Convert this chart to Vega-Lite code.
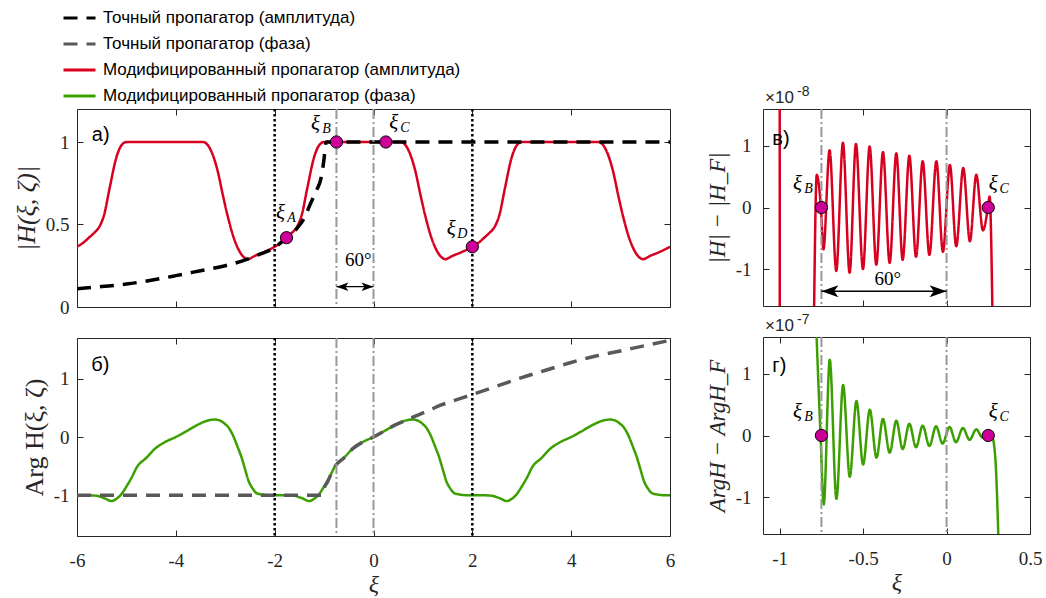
{
"$schema": "https://vega.github.io/schema/vega-lite/v6.json",
"padding": {"left": 12, "top": 0, "right": 0, "bottom": 0},
"background": "white",
"config": {
  "locale": {"number": {"decimal": ".", "thousands": ",", "grouping": [3], "currency": ["", ""], "minus": "-"}},
  "view": {"stroke": "#262626", "strokeWidth": 1},
  "axis": {"grid": false, "domain": false, "labelFlush": false, "tickColor": "#262626", "tickSize": -6, "tickWidth": 1, "labelFont": "Liberation Serif", "labelFontSize": 19, "labelColor": "#262626", "titleFont": "Liberation Serif", "titleFontSize": 22, "titleFontWeight": "normal", "titleColor": "#262626"}
},
"datasets": {
  "ampMod": [{"xi":-6,"v":0.365},{"xi":-5.85,"v":0.395},{"xi":-5.76,"v":0.42},{"xi":-5.65,"v":0.45},{"xi":-5.55,"v":0.485},{"xi":-5.45,"v":0.56},{"xi":-5.34,"v":0.72},{"xi":-5.2,"v":0.91},{"xi":-5.1,"v":0.98},{"xi":-5.0,"v":1.0},{"xi":-3.45,"v":1.0},{"xi":-3.35,"v":0.98},{"xi":-3.25,"v":0.92},{"xi":-3.15,"v":0.82},{"xi":-3.05,"v":0.68},{"xi":-2.95,"v":0.55},{"xi":-2.85,"v":0.44},{"xi":-2.75,"v":0.36},{"xi":-2.65,"v":0.31},{"xi":-2.55,"v":0.29},{"xi":-2.4,"v":0.31},{"xi":-2.2,"v":0.335},{"xi":-2.0,"v":0.365},{"xi":-1.85,"v":0.395},{"xi":-1.76,"v":0.42},{"xi":-1.65,"v":0.45},{"xi":-1.55,"v":0.485},{"xi":-1.45,"v":0.56},{"xi":-1.34,"v":0.72},{"xi":-1.2,"v":0.91},{"xi":-1.1,"v":0.98},{"xi":-1.0,"v":1.0},{"xi":0.55,"v":1.0},{"xi":0.65,"v":0.98},{"xi":0.75,"v":0.92},{"xi":0.85,"v":0.82},{"xi":0.95,"v":0.68},{"xi":1.05,"v":0.55},{"xi":1.15,"v":0.44},{"xi":1.25,"v":0.36},{"xi":1.35,"v":0.31},{"xi":1.45,"v":0.29},{"xi":1.6,"v":0.31},{"xi":1.8,"v":0.335},{"xi":2.0,"v":0.365},{"xi":2.15,"v":0.395},{"xi":2.24,"v":0.42},{"xi":2.35,"v":0.45},{"xi":2.45,"v":0.485},{"xi":2.55,"v":0.56},{"xi":2.66,"v":0.72},{"xi":2.8,"v":0.91},{"xi":2.9,"v":0.98},{"xi":3.0,"v":1.0},{"xi":4.55,"v":1.0},{"xi":4.65,"v":0.98},{"xi":4.75,"v":0.92},{"xi":4.85,"v":0.82},{"xi":4.95,"v":0.68},{"xi":5.05,"v":0.55},{"xi":5.15,"v":0.44},{"xi":5.25,"v":0.36},{"xi":5.35,"v":0.31},{"xi":5.45,"v":0.29},{"xi":5.6,"v":0.31},{"xi":5.8,"v":0.335},{"xi":6.0,"v":0.365}],
  "ampExact": [{"xi":-6,"v":0.11},{"xi":-5.5,"v":0.124},{"xi":-5,"v":0.139},{"xi":-4.5,"v":0.162},{"xi":-4,"v":0.19},{"xi":-3.5,"v":0.22},{"xi":-3,"v":0.25},{"xi":-2.55,"v":0.29},{"xi":-2.3,"v":0.32},{"xi":-2,"v":0.36},{"xi":-1.76,"v":0.42},{"xi":-1.54,"v":0.48},{"xi":-1.4,"v":0.54},{"xi":-1.27,"v":0.63},{"xi":-1.15,"v":0.71},{"xi":-1.07,"v":0.77},{"xi":-1.0,"v":0.9},{"xi":-0.97,"v":0.985},{"xi":-0.95,"v":1},{"xi":0,"v":1},{"xi":6,"v":1}],
  "phaseExact": [{"xi":-6,"v":-1},{"xi":-1.05,"v":-1},{"xi":-1.03,"v":-0.93},{"xi":-0.98,"v":-0.84},{"xi":-0.93,"v":-0.77},{"xi":-0.85,"v":-0.62},{"xi":-0.79,"v":-0.52},{"xi":-0.6,"v":-0.36},{"xi":-0.42,"v":-0.2},{"xi":-0.22,"v":-0.087},{"xi":0,"v":0},{"xi":0.19,"v":0.087},{"xi":0.42,"v":0.2},{"xi":0.66,"v":0.29},{"xi":0.9,"v":0.376},{"xi":1.13,"v":0.46},{"xi":1.37,"v":0.55},{"xi":1.54,"v":0.6},{"xi":2,"v":0.73},{"xi":2.48,"v":0.87},{"xi":3,"v":1.02},{"xi":3.5,"v":1.15},{"xi":4,"v":1.28},{"xi":4.5,"v":1.39},{"xi":4.84,"v":1.45},{"xi":5.5,"v":1.57},{"xi":6,"v":1.66}],
  "phaseMod": [{"xi":-6,"v":-1.0},{"xi":-5.8,"v":-1.0},{"xi":-5.6,"v":-1.01},{"xi":-5.45,"v":-1.05},{"xi":-5.3,"v":-1.1},{"xi":-5.2,"v":-1.06},{"xi":-5.1,"v":-0.98},{"xi":-5.0,"v":-0.85},{"xi":-4.89,"v":-0.69},{"xi":-4.79,"v":-0.52},{"xi":-4.6,"v":-0.36},{"xi":-4.42,"v":-0.2},{"xi":-4.22,"v":-0.087},{"xi":-4.0,"v":0},{"xi":-3.81,"v":0.087},{"xi":-3.58,"v":0.2},{"xi":-3.4,"v":0.27},{"xi":-3.21,"v":0.3},{"xi":-3.1,"v":0.28},{"xi":-3.0,"v":0.22},{"xi":-2.94,"v":0.17},{"xi":-2.85,"v":0.04},{"xi":-2.75,"v":-0.17},{"xi":-2.67,"v":-0.35},{"xi":-2.6,"v":-0.55},{"xi":-2.53,"v":-0.75},{"xi":-2.45,"v":-0.88},{"xi":-2.35,"v":-0.97},{"xi":-2.1,"v":-1.0},{"xi":-1.8,"v":-1.0},{"xi":-1.6,"v":-1.01},{"xi":-1.45,"v":-1.05},{"xi":-1.3,"v":-1.1},{"xi":-1.2,"v":-1.06},{"xi":-1.1,"v":-0.98},{"xi":-1.0,"v":-0.85},{"xi":-0.89,"v":-0.69},{"xi":-0.79,"v":-0.52},{"xi":-0.6,"v":-0.36},{"xi":-0.42,"v":-0.2},{"xi":-0.22,"v":-0.087},{"xi":0,"v":0},{"xi":0.19,"v":0.087},{"xi":0.42,"v":0.2},{"xi":0.6,"v":0.27},{"xi":0.79,"v":0.3},{"xi":0.9,"v":0.28},{"xi":1.0,"v":0.22},{"xi":1.06,"v":0.17},{"xi":1.15,"v":0.04},{"xi":1.25,"v":-0.17},{"xi":1.33,"v":-0.35},{"xi":1.4,"v":-0.55},{"xi":1.47,"v":-0.75},{"xi":1.55,"v":-0.88},{"xi":1.65,"v":-0.97},{"xi":1.9,"v":-1.0},{"xi":2.2,"v":-1.0},{"xi":2.4,"v":-1.01},{"xi":2.55,"v":-1.05},{"xi":2.7,"v":-1.1},{"xi":2.8,"v":-1.06},{"xi":2.9,"v":-0.98},{"xi":3.0,"v":-0.85},{"xi":3.11,"v":-0.69},{"xi":3.21,"v":-0.52},{"xi":3.4,"v":-0.36},{"xi":3.58,"v":-0.2},{"xi":3.78,"v":-0.087},{"xi":4.0,"v":0},{"xi":4.19,"v":0.087},{"xi":4.42,"v":0.2},{"xi":4.6,"v":0.27},{"xi":4.79,"v":0.3},{"xi":4.9,"v":0.28},{"xi":5.0,"v":0.22},{"xi":5.06,"v":0.17},{"xi":5.15,"v":0.04},{"xi":5.25,"v":-0.17},{"xi":5.33,"v":-0.35},{"xi":5.4,"v":-0.55},{"xi":5.47,"v":-0.75},{"xi":5.55,"v":-0.88},{"xi":5.65,"v":-0.97},{"xi":5.9,"v":-1.0},{"xi":6.0,"v":-1.0}],
  "dAmp": [{"xi":-0.795,"v":-1.9},{"xi":-0.778,"v":0.53},{"xi":-0.753,"v":0},{"xi":-0.738,"v":-0.68},{"xi":-0.701,"v":0.93},{"xi":-0.661,"v":-1.03},{"xi":-0.621,"v":1.05},{"xi":-0.581,"v":-1.06},{"xi":-0.543,"v":1.03},{"xi":-0.501,"v":-1.0},{"xi":-0.461,"v":0.99},{"xi":-0.421,"v":-0.93},{"xi":-0.381,"v":0.9},{"xi":-0.341,"v":-0.9},{"xi":-0.301,"v":0.88},{"xi":-0.263,"v":-0.85},{"xi":-0.223,"v":0.84},{"xi":-0.183,"v":-0.8},{"xi":-0.143,"v":0.75},{"xi":-0.103,"v":-0.77},{"xi":-0.061,"v":0.75},{"xi":-0.022,"v":-0.72},{"xi":0.02,"v":0.69},{"xi":0.058,"v":-0.63},{"xi":0.1,"v":0.64},{"xi":0.14,"v":-0.55},{"xi":0.178,"v":0.53},{"xi":0.218,"v":-0.37},{"xi":0.248,"v":0},{"xi":0.258,"v":0.18},{"xi":0.276,"v":-1.9}],
  "dAmpSpike": [{"xi":-1.0,"v":3},{"xi":-0.9995,"v":-3}],
  "dPhase": [{"xi":-0.79,"v":2.4},{"xi":-0.755,"v":0},{"xi":-0.736,"v":-1.12},{"xi":-0.7,"v":1.23},{"xi":-0.66,"v":-1.03},{"xi":-0.62,"v":0.82},{"xi":-0.58,"v":-0.67},{"xi":-0.54,"v":0.56},{"xi":-0.5,"v":-0.47},{"xi":-0.46,"v":0.42},{"xi":-0.42,"v":-0.36},{"xi":-0.381,"v":0.27},{"xi":-0.341,"v":-0.28},{"xi":-0.301,"v":0.24},{"xi":-0.263,"v":-0.22},{"xi":-0.223,"v":0.19},{"xi":-0.183,"v":-0.19},{"xi":-0.143,"v":0.16},{"xi":-0.103,"v":-0.17},{"xi":-0.063,"v":0.15},{"xi":-0.024,"v":-0.13},{"xi":0.018,"v":0.14},{"xi":0.056,"v":-0.11},{"xi":0.098,"v":0.12},{"xi":0.138,"v":-0.07},{"xi":0.178,"v":0.1},{"xi":0.215,"v":-0.03},{"xi":0.25,"v":0},{"xi":0.275,"v":-0.04},{"xi":0.293,"v":-0.4},{"xi":0.312,"v":-1.8}],
  "vGray": [{"xi":-0.75},{"xi":0}],
  "vBlack": [{"xi":-2},{"xi":2}],
  "ptsA": [{"xi":-1.76,"v":0.42,"sub":"A"},{"xi":-0.75,"v":1.0,"sub":"B"},{"xi":0.25,"v":1.0,"sub":"C"},{"xi":2.0,"v":0.365,"sub":"D"}],
  "ptsR": [{"xi":-0.75,"v":0,"sub":"B"},{"xi":0.25,"v":0,"sub":"C"}],
  "arrowA": [{"x1":-0.75,"x2":0,"v":0.123}],
  "arrowV": [{"x1":-0.75,"x2":0,"v":-1.36}],
  "txtA": [{"xi":-5.7,"v":1.04,"t":"а)"},{"xi":-0.31,"v":0.284,"t":"60°"}],
  "txtB": [{"xi":-5.71,"v":1.24,"t":"б)"}],
  "txtV": [{"xi":-1.044,"v":1.12,"t":"в)"},{"xi":-0.352,"v":-1.154,"t":"60°"}],
  "txtG": [{"xi":-1.044,"v":1.13,"t":"г)"}],
  "cornerV": [{"xi":-1.1,"v":1.6,"e":"-8"}],
  "cornerG": [{"xi":-1.1,"v":1.6,"e":"-7"}]
},
"hconcat": [
 {"vconcat": [
  {"width": 593, "height": 198,
   "resolve": {"axis": {"x": "independent", "y": "independent"}},
   "layer": [
    {"data": {"name": "ampMod"}, "mark": {"type": "line", "interpolate": "monotone", "strokeWidth": 2.5, "clip": true},
     "encoding": {
      "x": {"field": "xi", "type": "quantitative", "scale": {"domain": [-6, 6], "nice": false, "zero": false}, "axis": {"orient": "bottom", "values": [-6,-4,-2,0,2,4,6], "labels": false, "title": null}},
      "y": {"field": "v", "type": "quantitative", "scale": {"domain": [0, 1.2], "nice": false, "zero": false}, "axis": {"orient": "left", "values": [0, 0.5, 1], "format": "~g", "title": "|H(ξ, ζ)|", "titleFontStyle": "italic", "titleFontSize": 26, "labelPadding": 14, "titlePadding": 6}},
      "color": {"datum": "Модифицированный пропагатор (амплитуда)", "type": "nominal", "scale": {"domain": ["Точный пропагатор (амплитуда)", "Точный пропагатор (фаза)", "Модифицированный пропагатор (амплитуда)", "Модифицированный пропагатор (фаза)"], "range": ["#000000", "#595959", "#d7001f", "#3c9f00"]}, "legend": {"orient": "none", "legendX": -15, "legendY": -108.5, "title": null, "symbolType": "stroke", "symbolSize": 1024, "symbolStrokeWidth": 3, "labelFont": "Liberation Sans", "labelFontSize": 17, "labelColor": "black", "labelLimit": 0, "labelOffset": 6, "rowPadding": -5, "padding": 0}},
      "strokeDash": {"datum": "Модифицированный пропагатор (амплитуда)", "type": "nominal", "scale": {"domain": ["Точный пропагатор (амплитуда)", "Точный пропагатор (фаза)", "Модифицированный пропагатор (амплитуда)", "Модифицированный пропагатор (фаза)"], "range": [[14, 9], [14, 9], [1, 0], [1, 0]]}, "legend": {"orient": "none", "legendX": -15, "legendY": -108.5, "title": null, "symbolType": "stroke", "symbolSize": 1024, "symbolStrokeWidth": 3, "labelFont": "Liberation Sans", "labelFontSize": 17, "labelColor": "black", "labelLimit": 0, "labelOffset": 6, "rowPadding": -5, "padding": 0}}
     }},
    {"data": {"name": "ampExact"}, "mark": {"type": "line", "interpolate": "monotone", "strokeWidth": 3.5, "clip": true},
     "encoding": {
      "x": {"field": "xi", "type": "quantitative", "scale": {"domain": [-6, 6], "nice": false, "zero": false}, "axis": {"orient": "top", "values": [-6,-4,-2,0,2,4,6], "labels": false, "title": null}},
      "y": {"field": "v", "type": "quantitative", "scale": {"domain": [0, 1.2], "nice": false, "zero": false}, "axis": {"orient": "right", "values": [0, 0.5, 1], "labels": false, "title": null}},
      "color": {"datum": "Точный пропагатор (амплитуда)", "type": "nominal"},
      "strokeDash": {"datum": "Точный пропагатор (амплитуда)", "type": "nominal"}
     }},
    {"data": {"name": "vGray"}, "mark": {"type": "rule", "color": "#999999", "strokeWidth": 2, "strokeDash": [10, 3, 2, 3]},
     "encoding": {"x": {"field": "xi", "type": "quantitative", "scale": {"domain": [-6, 6], "nice": false, "zero": false}, "axis": null}}},
    {"data": {"name": "vBlack"}, "mark": {"type": "rule", "color": "#000000", "strokeWidth": 2.5, "strokeDash": [2.5, 2.5]},
     "encoding": {"x": {"field": "xi", "type": "quantitative", "scale": {"domain": [-6, 6], "nice": false, "zero": false}, "axis": null}}},
    {"data": {"name": "arrowA"}, "mark": {"type": "rule", "color": "#000000", "strokeWidth": 1.3},
     "encoding": {"x": {"field": "x1", "type": "quantitative", "scale": {"domain": [-6, 6], "nice": false, "zero": false}, "axis": null}, "x2": {"field": "x2"}, "y": {"field": "v", "type": "quantitative", "scale": {"domain": [0, 1.2], "nice": false, "zero": false}, "axis": null}}},
    {"data": {"name": "arrowA"}, "mark": {"type": "point", "filled": true, "color": "#000000", "opacity": 1, "size": 144, "shape": "M0,0L2,-0.7L1.5,0L2,0.7Z"},
     "encoding": {"x": {"field": "x1", "type": "quantitative", "scale": {"domain": [-6, 6], "nice": false, "zero": false}, "axis": null}, "y": {"field": "v", "type": "quantitative", "scale": {"domain": [0, 1.2], "nice": false, "zero": false}, "axis": null}}},
    {"data": {"name": "arrowA"}, "mark": {"type": "point", "filled": true, "color": "#000000", "opacity": 1, "size": 144, "shape": "M0,0L-2,-0.7L-1.5,0L-2,0.7Z"},
     "encoding": {"x": {"field": "x2", "type": "quantitative", "scale": {"domain": [-6, 6], "nice": false, "zero": false}, "axis": null}, "y": {"field": "v", "type": "quantitative", "scale": {"domain": [0, 1.2], "nice": false, "zero": false}, "axis": null}}},
    {"data": {"name": "txtA"}, "transform": [{"filter": "datum.t != '60°'"}], "mark": {"type": "text", "font": "Liberation Sans", "fontSize": 20, "align": "left", "baseline": "middle", "color": "#000000"},
     "encoding": {"x": {"field": "xi", "type": "quantitative", "scale": {"domain": [-6, 6], "nice": false, "zero": false}, "axis": null}, "y": {"field": "v", "type": "quantitative", "scale": {"domain": [0, 1.2], "nice": false, "zero": false}, "axis": null}, "text": {"field": "t"}}},
    {"data": {"name": "txtA"}, "transform": [{"filter": "datum.t == '60°'"}], "mark": {"type": "text", "font": "Liberation Serif", "fontSize": 19, "align": "center", "baseline": "middle", "color": "#000000"},
     "encoding": {"x": {"field": "xi", "type": "quantitative", "scale": {"domain": [-6, 6], "nice": false, "zero": false}, "axis": null}, "y": {"field": "v", "type": "quantitative", "scale": {"domain": [0, 1.2], "nice": false, "zero": false}, "axis": null}, "text": {"field": "t"}}},
    {"data": {"name": "ptsA"}, "mark": {"type": "point", "filled": true, "shape": "circle", "size": 150, "fill": "#cc0099", "stroke": "#000000", "strokeWidth": 1, "opacity": 1},
     "encoding": {"x": {"field": "xi", "type": "quantitative", "scale": {"domain": [-6, 6], "nice": false, "zero": false}, "axis": null}, "y": {"field": "v", "type": "quantitative", "scale": {"domain": [0, 1.2], "nice": false, "zero": false}, "axis": null}}},
    {"data": {"name": "ptsA"}, "transform": [{"filter": "datum.sub == 'B' || datum.sub == 'D'"}], "mark": {"type": "text", "text": "ξ", "font": "Liberation Serif", "fontStyle": "italic", "fontSize": 21, "align": "center", "baseline": "middle", "dx": -21, "dy": -18, "color": "#000000"},
     "encoding": {"x": {"field": "xi", "type": "quantitative", "scale": {"domain": [-6, 6], "nice": false, "zero": false}, "axis": null}, "y": {"field": "v", "type": "quantitative", "scale": {"domain": [0, 1.2], "nice": false, "zero": false}, "axis": null}}},
    {"data": {"name": "ptsA"}, "transform": [{"filter": "datum.sub == 'B' || datum.sub == 'D'"}], "mark": {"type": "text", "font": "Liberation Serif", "fontStyle": "italic", "fontSize": 14, "align": "center", "baseline": "middle", "dx": -10, "dy": -13, "color": "#000000"},
     "encoding": {"x": {"field": "xi", "type": "quantitative", "scale": {"domain": [-6, 6], "nice": false, "zero": false}, "axis": null}, "y": {"field": "v", "type": "quantitative", "scale": {"domain": [0, 1.2], "nice": false, "zero": false}, "axis": null}, "text": {"field": "sub"}}},
    {"data": {"name": "ptsA"}, "transform": [{"filter": "datum.sub == 'A'"}], "mark": {"type": "text", "text": "ξ", "font": "Liberation Serif", "fontStyle": "italic", "fontSize": 21, "align": "center", "baseline": "middle", "dx": -6, "dy": -25, "color": "#000000"},
     "encoding": {"x": {"field": "xi", "type": "quantitative", "scale": {"domain": [-6, 6], "nice": false, "zero": false}, "axis": null}, "y": {"field": "v", "type": "quantitative", "scale": {"domain": [0, 1.2], "nice": false, "zero": false}, "axis": null}}},
    {"data": {"name": "ptsA"}, "transform": [{"filter": "datum.sub == 'A'"}], "mark": {"type": "text", "font": "Liberation Serif", "fontStyle": "italic", "fontSize": 14, "align": "center", "baseline": "middle", "dx": 5, "dy": -20, "color": "#000000"},
     "encoding": {"x": {"field": "xi", "type": "quantitative", "scale": {"domain": [-6, 6], "nice": false, "zero": false}, "axis": null}, "y": {"field": "v", "type": "quantitative", "scale": {"domain": [0, 1.2], "nice": false, "zero": false}, "axis": null}, "text": {"field": "sub"}}},
    {"data": {"name": "ptsA"}, "transform": [{"filter": "datum.sub == 'C'"}], "mark": {"type": "text", "text": "ξ", "font": "Liberation Serif", "fontStyle": "italic", "fontSize": 21, "align": "center", "baseline": "middle", "dx": 8, "dy": -19, "color": "#000000"},
     "encoding": {"x": {"field": "xi", "type": "quantitative", "scale": {"domain": [-6, 6], "nice": false, "zero": false}, "axis": null}, "y": {"field": "v", "type": "quantitative", "scale": {"domain": [0, 1.2], "nice": false, "zero": false}, "axis": null}}},
    {"data": {"name": "ptsA"}, "transform": [{"filter": "datum.sub == 'C'"}], "mark": {"type": "text", "font": "Liberation Serif", "fontStyle": "italic", "fontSize": 14, "align": "center", "baseline": "middle", "dx": 19, "dy": -14, "color": "#000000"},
     "encoding": {"x": {"field": "xi", "type": "quantitative", "scale": {"domain": [-6, 6], "nice": false, "zero": false}, "axis": null}, "y": {"field": "v", "type": "quantitative", "scale": {"domain": [0, 1.2], "nice": false, "zero": false}, "axis": null}, "text": {"field": "sub"}}}
   ]},
  {"width": 593, "height": 198,
   "resolve": {"axis": {"x": "independent", "y": "independent"}},
   "layer": [
    {"data": {"name": "phaseMod"}, "mark": {"type": "line", "interpolate": "monotone", "strokeWidth": 2.5, "clip": true},
     "encoding": {
      "x": {"field": "xi", "type": "quantitative", "scale": {"domain": [-6, 6], "nice": false, "zero": false}, "axis": {"orient": "bottom", "values": [-6,-4,-2,0,2,4,6], "format": "~g", "labelPadding": 21, "title": "ξ", "titleFontStyle": "italic", "titleFontSize": 24, "titlePadding": 2}},
      "y": {"field": "v", "type": "quantitative", "scale": {"domain": [-1.7, 1.7], "nice": false, "zero": false}, "axis": {"orient": "left", "values": [-1, 0, 1], "format": "~g", "title": "Arg H(ξ, ζ)", "titleFontSize": 26, "labelPadding": 14, "titlePadding": 6}},
      "color": {"datum": "Модифицированный пропагатор (фаза)", "type": "nominal"},
      "strokeDash": {"datum": "Модифицированный пропагатор (фаза)", "type": "nominal"}
     }},
    {"data": {"name": "phaseExact"}, "mark": {"type": "line", "interpolate": "monotone", "strokeWidth": 3.5, "clip": true},
     "encoding": {
      "x": {"field": "xi", "type": "quantitative", "scale": {"domain": [-6, 6], "nice": false, "zero": false}, "axis": {"orient": "top", "values": [-6,-4,-2,0,2,4,6], "labels": false, "title": null}},
      "y": {"field": "v", "type": "quantitative", "scale": {"domain": [-1.7, 1.7], "nice": false, "zero": false}, "axis": {"orient": "right", "values": [-1, 0, 1], "labels": false, "title": null}},
      "color": {"datum": "Точный пропагатор (фаза)", "type": "nominal"},
      "strokeDash": {"datum": "Точный пропагатор (фаза)", "type": "nominal"}
     }},
    {"data": {"name": "vGray"}, "mark": {"type": "rule", "color": "#999999", "strokeWidth": 2, "strokeDash": [10, 3, 2, 3]},
     "encoding": {"x": {"field": "xi", "type": "quantitative", "scale": {"domain": [-6, 6], "nice": false, "zero": false}, "axis": null}}},
    {"data": {"name": "vBlack"}, "mark": {"type": "rule", "color": "#000000", "strokeWidth": 2.5, "strokeDash": [2.5, 2.5]},
     "encoding": {"x": {"field": "xi", "type": "quantitative", "scale": {"domain": [-6, 6], "nice": false, "zero": false}, "axis": null}}},
    {"data": {"name": "txtB"}, "mark": {"type": "text", "font": "Liberation Sans", "fontSize": 20, "align": "left", "baseline": "middle", "color": "#000000"},
     "encoding": {"x": {"field": "xi", "type": "quantitative", "scale": {"domain": [-6, 6], "nice": false, "zero": false}, "axis": null}, "y": {"field": "v", "type": "quantitative", "scale": {"domain": [-1.7, 1.7], "nice": false, "zero": false}, "axis": null}, "text": {"field": "t"}}}
   ]}
 ], "spacing": 18},
 {"vconcat": [
  {"width": 267, "height": 197,
   "resolve": {"axis": {"x": "independent", "y": "independent"}},
   "layer": [
    {"data": {"name": "dAmp"}, "mark": {"type": "line", "interpolate": "monotone", "strokeWidth": 2.5, "clip": true},
     "encoding": {
      "x": {"field": "xi", "type": "quantitative", "scale": {"domain": [-1.1, 0.5], "nice": false, "zero": false}, "axis": {"orient": "bottom", "values": [-1, -0.5, 0, 0.5], "labels": false, "title": null}},
      "y": {"field": "v", "type": "quantitative", "scale": {"domain": [-1.6, 1.6], "nice": false, "zero": false}, "axis": {"orient": "left", "values": [-1, 0, 1], "format": "~g", "title": "|H| − |H_F|", "titleFontStyle": "italic", "titleFontSize": 23, "labelPadding": 18, "titlePadding": 6}},
      "color": {"datum": "Модифицированный пропагатор (амплитуда)", "type": "nominal"},
      "strokeDash": {"datum": "Модифицированный пропагатор (амплитуда)", "type": "nominal"}
     }},
    {"data": {"name": "dAmpSpike"}, "mark": {"type": "line", "strokeWidth": 2.5, "clip": true},
     "encoding": {
      "x": {"field": "xi", "type": "quantitative", "scale": {"domain": [-1.1, 0.5], "nice": false, "zero": false}, "axis": {"orient": "top", "values": [-1, -0.5, 0, 0.5], "labels": false, "title": null}},
      "y": {"field": "v", "type": "quantitative", "scale": {"domain": [-1.6, 1.6], "nice": false, "zero": false}, "axis": {"orient": "right", "values": [-1, 0, 1], "labels": false, "title": null}},
      "color": {"datum": "Модифицированный пропагатор (амплитуда)", "type": "nominal"},
      "strokeDash": {"datum": "Модифицированный пропагатор (амплитуда)", "type": "nominal"}
     }},
    {"data": {"name": "vGray"}, "mark": {"type": "rule", "color": "#999999", "strokeWidth": 2, "strokeDash": [10, 3, 2, 3]},
     "encoding": {"x": {"field": "xi", "type": "quantitative", "scale": {"domain": [-1.1, 0.5], "nice": false, "zero": false}, "axis": null}}},
    {"data": {"name": "arrowV"}, "mark": {"type": "rule", "color": "#000000", "strokeWidth": 1.3},
     "encoding": {"x": {"field": "x1", "type": "quantitative", "scale": {"domain": [-1.1, 0.5], "nice": false, "zero": false}, "axis": null}, "x2": {"field": "x2"}, "y": {"field": "v", "type": "quantitative", "scale": {"domain": [-1.6, 1.6], "nice": false, "zero": false}, "axis": null}}},
    {"data": {"name": "arrowV"}, "mark": {"type": "point", "filled": true, "color": "#000000", "opacity": 1, "size": 289, "shape": "M0,0L2,-0.7L1.5,0L2,0.7Z"},
     "encoding": {"x": {"field": "x1", "type": "quantitative", "scale": {"domain": [-1.1, 0.5], "nice": false, "zero": false}, "axis": null}, "y": {"field": "v", "type": "quantitative", "scale": {"domain": [-1.6, 1.6], "nice": false, "zero": false}, "axis": null}}},
    {"data": {"name": "arrowV"}, "mark": {"type": "point", "filled": true, "color": "#000000", "opacity": 1, "size": 289, "shape": "M0,0L-2,-0.7L-1.5,0L-2,0.7Z"},
     "encoding": {"x": {"field": "x2", "type": "quantitative", "scale": {"domain": [-1.1, 0.5], "nice": false, "zero": false}, "axis": null}, "y": {"field": "v", "type": "quantitative", "scale": {"domain": [-1.6, 1.6], "nice": false, "zero": false}, "axis": null}}},
    {"data": {"name": "txtV"}, "transform": [{"filter": "datum.t != '60°'"}], "mark": {"type": "text", "font": "Liberation Sans", "fontSize": 20, "align": "left", "baseline": "middle", "color": "#000000"},
     "encoding": {"x": {"field": "xi", "type": "quantitative", "scale": {"domain": [-1.1, 0.5], "nice": false, "zero": false}, "axis": null}, "y": {"field": "v", "type": "quantitative", "scale": {"domain": [-1.6, 1.6], "nice": false, "zero": false}, "axis": null}, "text": {"field": "t"}}},
    {"data": {"name": "txtV"}, "transform": [{"filter": "datum.t == '60°'"}], "mark": {"type": "text", "font": "Liberation Serif", "fontSize": 19, "align": "center", "baseline": "middle", "color": "#000000"},
     "encoding": {"x": {"field": "xi", "type": "quantitative", "scale": {"domain": [-1.1, 0.5], "nice": false, "zero": false}, "axis": null}, "y": {"field": "v", "type": "quantitative", "scale": {"domain": [-1.6, 1.6], "nice": false, "zero": false}, "axis": null}, "text": {"field": "t"}}},
    {"data": {"name": "cornerV"}, "mark": {"type": "text", "text": "×10", "font": "Liberation Sans", "fontSize": 17, "align": "left", "baseline": "alphabetic", "dx": 2, "dy": -6, "color": "#262626"},
     "encoding": {"x": {"field": "xi", "type": "quantitative", "scale": {"domain": [-1.1, 0.5], "nice": false, "zero": false}, "axis": null}, "y": {"field": "v", "type": "quantitative", "scale": {"domain": [-1.6, 1.6], "nice": false, "zero": false}, "axis": null}}},
    {"data": {"name": "cornerV"}, "mark": {"type": "text", "font": "Liberation Sans", "fontSize": 14, "align": "left", "baseline": "alphabetic", "dx": 34, "dy": -13, "color": "#262626"},
     "encoding": {"x": {"field": "xi", "type": "quantitative", "scale": {"domain": [-1.1, 0.5], "nice": false, "zero": false}, "axis": null}, "y": {"field": "v", "type": "quantitative", "scale": {"domain": [-1.6, 1.6], "nice": false, "zero": false}, "axis": null}, "text": {"field": "e"}}},
    {"data": {"name": "ptsR"}, "mark": {"type": "point", "filled": true, "shape": "circle", "size": 150, "fill": "#cc0099", "stroke": "#000000", "strokeWidth": 1, "opacity": 1},
     "encoding": {"x": {"field": "xi", "type": "quantitative", "scale": {"domain": [-1.1, 0.5], "nice": false, "zero": false}, "axis": null}, "y": {"field": "v", "type": "quantitative", "scale": {"domain": [-1.6, 1.6], "nice": false, "zero": false}, "axis": null}}},
    {"data": {"name": "ptsR"}, "transform": [{"filter": "datum.sub == 'B'"}], "mark": {"type": "text", "text": "ξ", "font": "Liberation Serif", "fontStyle": "italic", "fontSize": 21, "align": "center", "baseline": "middle", "dx": -24, "dy": -24, "color": "#000000"},
     "encoding": {"x": {"field": "xi", "type": "quantitative", "scale": {"domain": [-1.1, 0.5], "nice": false, "zero": false}, "axis": null}, "y": {"field": "v", "type": "quantitative", "scale": {"domain": [-1.6, 1.6], "nice": false, "zero": false}, "axis": null}}},
    {"data": {"name": "ptsR"}, "transform": [{"filter": "datum.sub == 'B'"}], "mark": {"type": "text", "font": "Liberation Serif", "fontStyle": "italic", "fontSize": 14, "align": "center", "baseline": "middle", "dx": -13, "dy": -19, "color": "#000000"},
     "encoding": {"x": {"field": "xi", "type": "quantitative", "scale": {"domain": [-1.1, 0.5], "nice": false, "zero": false}, "axis": null}, "y": {"field": "v", "type": "quantitative", "scale": {"domain": [-1.6, 1.6], "nice": false, "zero": false}, "axis": null}, "text": {"field": "sub"}}},
    {"data": {"name": "ptsR"}, "transform": [{"filter": "datum.sub == 'C'"}], "mark": {"type": "text", "text": "ξ", "font": "Liberation Serif", "fontStyle": "italic", "fontSize": 21, "align": "center", "baseline": "middle", "dx": 5, "dy": -24, "color": "#000000"},
     "encoding": {"x": {"field": "xi", "type": "quantitative", "scale": {"domain": [-1.1, 0.5], "nice": false, "zero": false}, "axis": null}, "y": {"field": "v", "type": "quantitative", "scale": {"domain": [-1.6, 1.6], "nice": false, "zero": false}, "axis": null}}},
    {"data": {"name": "ptsR"}, "transform": [{"filter": "datum.sub == 'C'"}], "mark": {"type": "text", "font": "Liberation Serif", "fontStyle": "italic", "fontSize": 14, "align": "center", "baseline": "middle", "dx": 16, "dy": -19, "color": "#000000"},
     "encoding": {"x": {"field": "xi", "type": "quantitative", "scale": {"domain": [-1.1, 0.5], "nice": false, "zero": false}, "axis": null}, "y": {"field": "v", "type": "quantitative", "scale": {"domain": [-1.6, 1.6], "nice": false, "zero": false}, "axis": null}, "text": {"field": "sub"}}}
   ]},
  {"width": 267, "height": 197,
   "resolve": {"axis": {"x": "independent", "y": "independent"}},
   "layer": [
    {"data": {"name": "dPhase"}, "mark": {"type": "line", "interpolate": "monotone", "strokeWidth": 2.5, "clip": true},
     "encoding": {
      "x": {"field": "xi", "type": "quantitative", "scale": {"domain": [-1.1, 0.5], "nice": false, "zero": false}, "axis": {"orient": "bottom", "values": [-1, -0.5, 0, 0.5], "format": "~g", "labelPadding": 21, "title": "ξ", "titleFontStyle": "italic", "titleFontSize": 24, "titlePadding": 2}},
      "y": {"field": "v", "type": "quantitative", "scale": {"domain": [-1.6, 1.6], "nice": false, "zero": false}, "axis": {"orient": "left", "values": [-1, 0, 1], "format": "~g", "title": "ArgH − ArgH_F", "titleFontStyle": "italic", "titleFontSize": 23, "labelPadding": 18, "titlePadding": 6}},
      "color": {"datum": "Модифицированный пропагатор (фаза)", "type": "nominal"},
      "strokeDash": {"datum": "Модифицированный пропагатор (фаза)", "type": "nominal"}
     }},
    {"data": {"name": "vGray"}, "mark": {"type": "rule", "color": "#999999", "strokeWidth": 2, "strokeDash": [10, 3, 2, 3]},
     "encoding": {"x": {"field": "xi", "type": "quantitative", "scale": {"domain": [-1.1, 0.5], "nice": false, "zero": false}, "axis": {"orient": "top", "values": [-1, -0.5, 0, 0.5], "labels": false, "title": null}}}},
    {"data": {"name": "ptsR"}, "mark": {"type": "point", "filled": true, "shape": "circle", "size": 150, "fill": "#cc0099", "stroke": "#000000", "strokeWidth": 1, "opacity": 1},
     "encoding": {"x": {"field": "xi", "type": "quantitative", "scale": {"domain": [-1.1, 0.5], "nice": false, "zero": false}, "axis": null}, "y": {"field": "v", "type": "quantitative", "scale": {"domain": [-1.6, 1.6], "nice": false, "zero": false}, "axis": {"orient": "right", "values": [-1, 0, 1], "labels": false, "title": null}}}},
    {"data": {"name": "txtG"}, "mark": {"type": "text", "font": "Liberation Sans", "fontSize": 20, "align": "left", "baseline": "middle", "color": "#000000"},
     "encoding": {"x": {"field": "xi", "type": "quantitative", "scale": {"domain": [-1.1, 0.5], "nice": false, "zero": false}, "axis": null}, "y": {"field": "v", "type": "quantitative", "scale": {"domain": [-1.6, 1.6], "nice": false, "zero": false}, "axis": null}, "text": {"field": "t"}}},
    {"data": {"name": "cornerG"}, "mark": {"type": "text", "text": "×10", "font": "Liberation Sans", "fontSize": 17, "align": "left", "baseline": "alphabetic", "dx": 2, "dy": -6, "color": "#262626"},
     "encoding": {"x": {"field": "xi", "type": "quantitative", "scale": {"domain": [-1.1, 0.5], "nice": false, "zero": false}, "axis": null}, "y": {"field": "v", "type": "quantitative", "scale": {"domain": [-1.6, 1.6], "nice": false, "zero": false}, "axis": null}}},
    {"data": {"name": "cornerG"}, "mark": {"type": "text", "font": "Liberation Sans", "fontSize": 14, "align": "left", "baseline": "alphabetic", "dx": 34, "dy": -13, "color": "#262626"},
     "encoding": {"x": {"field": "xi", "type": "quantitative", "scale": {"domain": [-1.1, 0.5], "nice": false, "zero": false}, "axis": null}, "y": {"field": "v", "type": "quantitative", "scale": {"domain": [-1.6, 1.6], "nice": false, "zero": false}, "axis": null}, "text": {"field": "e"}}},
    {"data": {"name": "ptsR"}, "transform": [{"filter": "datum.sub == 'B'"}], "mark": {"type": "text", "text": "ξ", "font": "Liberation Serif", "fontStyle": "italic", "fontSize": 21, "align": "center", "baseline": "middle", "dx": -24, "dy": -24, "color": "#000000"},
     "encoding": {"x": {"field": "xi", "type": "quantitative", "scale": {"domain": [-1.1, 0.5], "nice": false, "zero": false}, "axis": null}, "y": {"field": "v", "type": "quantitative", "scale": {"domain": [-1.6, 1.6], "nice": false, "zero": false}, "axis": null}}},
    {"data": {"name": "ptsR"}, "transform": [{"filter": "datum.sub == 'B'"}], "mark": {"type": "text", "font": "Liberation Serif", "fontStyle": "italic", "fontSize": 14, "align": "center", "baseline": "middle", "dx": -13, "dy": -19, "color": "#000000"},
     "encoding": {"x": {"field": "xi", "type": "quantitative", "scale": {"domain": [-1.1, 0.5], "nice": false, "zero": false}, "axis": null}, "y": {"field": "v", "type": "quantitative", "scale": {"domain": [-1.6, 1.6], "nice": false, "zero": false}, "axis": null}, "text": {"field": "sub"}}},
    {"data": {"name": "ptsR"}, "transform": [{"filter": "datum.sub == 'C'"}], "mark": {"type": "text", "text": "ξ", "font": "Liberation Serif", "fontStyle": "italic", "fontSize": 21, "align": "center", "baseline": "middle", "dx": 5, "dy": -24, "color": "#000000"},
     "encoding": {"x": {"field": "xi", "type": "quantitative", "scale": {"domain": [-1.1, 0.5], "nice": false, "zero": false}, "axis": null}, "y": {"field": "v", "type": "quantitative", "scale": {"domain": [-1.6, 1.6], "nice": false, "zero": false}, "axis": null}}},
    {"data": {"name": "ptsR"}, "transform": [{"filter": "datum.sub == 'C'"}], "mark": {"type": "text", "font": "Liberation Serif", "fontStyle": "italic", "fontSize": 14, "align": "center", "baseline": "middle", "dx": 16, "dy": -19, "color": "#000000"},
     "encoding": {"x": {"field": "xi", "type": "quantitative", "scale": {"domain": [-1.1, 0.5], "nice": false, "zero": false}, "axis": null}, "y": {"field": "v", "type": "quantitative", "scale": {"domain": [-1.6, 1.6], "nice": false, "zero": false}, "axis": null}, "text": {"field": "sub"}}}
   ]}
 ], "spacing": 4}
],
"spacing": 29
}
